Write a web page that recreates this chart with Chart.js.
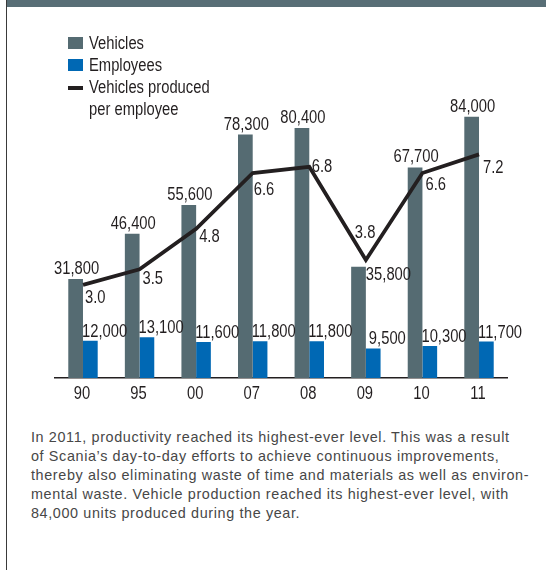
<!DOCTYPE html>
<html>
<head>
<meta charset="utf-8">
<script src="https://cdn.jsdelivr.net/npm/chart.js@4/dist/chart.umd.min.js"></script>
<style>
html,body{margin:0;padding:0;background:#fff;}
body{width:546px;height:570px;position:relative;overflow:hidden;}
#topbar{position:absolute;left:6px;top:0;width:540px;height:6.6px;background:#586e76;}
#leftline{position:absolute;left:6px;top:0;width:1.4px;height:570px;background:#3a3a3a;}
#wrap{position:absolute;left:0;top:0;width:546px;height:410px;}
#legend{position:absolute;left:0;top:31.75px;font:18px "Liberation Sans",Arial,sans-serif;color:#231f20;line-height:22px;}
.li{position:relative;height:22px;}
.tx{position:absolute;left:89px;top:0;white-space:nowrap;transform:scaleX(0.82);transform-origin:0 0;}
.sw{position:absolute;left:68px;top:5px;width:14.5px;height:12.5px;}
.ln{position:absolute;left:68px;top:10.5px;width:14.5px;height:3.4px;background:#231f20;}
#note{position:absolute;left:31px;top:428.3px;font:14.4px "Liberation Sans",Arial,sans-serif;letter-spacing:0.62px;line-height:19px;color:#474747;white-space:nowrap;}
</style>
</head>
<body>
<div id="topbar"></div>
<div id="leftline"></div>
<div id="wrap"><canvas id="c" width="546" height="410"></canvas></div>
<div id="legend"></div>
<div id="note">In 2011, productivity reached its highest-ever level. This was a result<br>of Scania’s day-to-day efforts to achieve continuous improvements,<br>thereby also eliminating waste of time and materials as well as environ-<br>mental waste. Vehicle production reached its highest-ever level, with<br>84,000 units produced during the year.</div>
<script>
// ---- data ----
const years = ['90', '95', '00', '07', '08', '09', '10', '11'];
const vehicles = [31800, 46400, 55600, 78300, 80400, 35800, 67700, 84000];
const employees = [12000, 13100, 11600, 11800, 11800, 9500, 10300, 11700];
const perEmployee = [3.0, 3.5, 4.8, 6.6, 6.8, 3.8, 6.6, 7.2];
const seriesNames = ['Vehicles', 'Employees', 'Vehicles produced\nper employee'];

// ---- style ----
const FONT = '18px "Liberation Sans", Arial, sans-serif';
const NARROW = 0.82;
const INK = '#231f20';
const C_VEH = '#556b72';
const C_EMP = '#0068b4';
// label placement tweaks (position only)
const vehLabelSide = ['top','top','top','top','top','right','top','top'];
const empLabelDx = [0,0,0,0,0,4,0,0];
const lineLabelOffset = [[2,18],[3,15],[3,13],[1,22],[2.5,5],[-11,-22],[3,17],[4,19]];

// legend (HTML text)
const legend = document.getElementById('legend');
const swatchColors = [C_VEH, C_EMP, null];
seriesNames.forEach((name, i) => {
  name.split('\n').forEach((line, j) => {
    const d = document.createElement('div');
    d.className = 'li';
    const t = document.createElement('span');
    t.className = 'tx';
    t.textContent = line;
    d.appendChild(t);
    if (j === 0) {
      const s = document.createElement('span');
      if (swatchColors[i]) { s.className = 'sw'; s.style.background = swatchColors[i]; }
      else { s.className = 'ln'; }
      d.appendChild(s);
    }
    legend.appendChild(d);
  });
});

function narrowText(ctx, txt, x, y, align) {
  ctx.save();
  ctx.translate(x, y);
  ctx.scale(NARROW, 1);
  ctx.textAlign = align;
  ctx.fillText(txt, 0, 0);
  ctx.restore();
}

const labelPlugin = {
  id: 'valueLabels',
  afterDatasetsDraw(chart) {
    const ctx = chart.ctx;
    ctx.save();
    ctx.font = FONT;
    ctx.fillStyle = INK;
    ctx.textBaseline = 'alphabetic';
    // x axis tick labels (positions from the category scale)
    const xs = chart.scales.x;
    xs.ticks.forEach((t, i) => {
      narrowText(ctx, years[i], xs.getPixelForTick(i) - 1, xs.top + 21, 'center');
    });
    // vehicles
    chart.getDatasetMeta(0).data.forEach((bar, i) => {
      const txt = vehicles[i].toLocaleString('en-US');
      if (vehLabelSide[i] === 'right') {
        narrowText(ctx, txt, bar.x + bar.width / 2, bar.y + 13, 'left');
      } else {
        narrowText(ctx, txt, bar.x + 1, bar.y - 5, 'center');
      }
    });
    // employees
    chart.getDatasetMeta(1).data.forEach((bar, i) => {
      const txt = employees[i].toLocaleString('en-US');
      narrowText(ctx, txt, bar.x - bar.width / 2 - 1 + empLabelDx[i], bar.y - 4, 'left');
    });
    // line
    chart.getDatasetMeta(2).data.forEach((pt, i) => {
      const txt = perEmployee[i].toFixed(1);
      narrowText(ctx, txt, pt.x + lineLabelOffset[i][0], pt.y + lineLabelOffset[i][1], 'left');
    });
    ctx.restore();
  }
};

new Chart(document.getElementById('c'), {
  type: 'bar',
  data: {
    labels: years,
    datasets: [
      { label: 'Vehicles', data: vehicles, backgroundColor: C_VEH, yAxisID: 'y', order: 1,
        categoryPercentage: 0.52, barPercentage: 1.0 },
      { label: 'Employees', data: employees, backgroundColor: C_EMP, yAxisID: 'y', order: 1,
        categoryPercentage: 0.52, barPercentage: 1.0 },
      { type: 'line', label: 'Vehicles produced per employee', data: perEmployee, yAxisID: 'y2', order: 0,
        borderColor: INK, borderWidth: 3.8, pointRadius: 0, tension: 0, fill: false,
        borderJoinStyle: 'miter', borderCapStyle: 'butt' }
    ]
  },
  options: {
    responsive: false,
    animation: false,
    devicePixelRatio: 1,
    layout: { padding: { left: 54.7, right: 38.7, top: 100, bottom: 6 } },
    plugins: { legend: { display: false }, tooltip: { enabled: false } },
    scales: {
      x: {
        grid: { display: false, drawTicks: false },
        border: { display: true, color: INK, width: 1.6 },
        ticks: { display: false },
        afterFit: (s) => { s.height = 26; }
      },
      y: { display: false, min: 0, max: 89400 },
      y2: { display: false, min: 0, max: 8.95 }
    }
  },
  plugins: [labelPlugin]
});
</script>
</body>
</html>
